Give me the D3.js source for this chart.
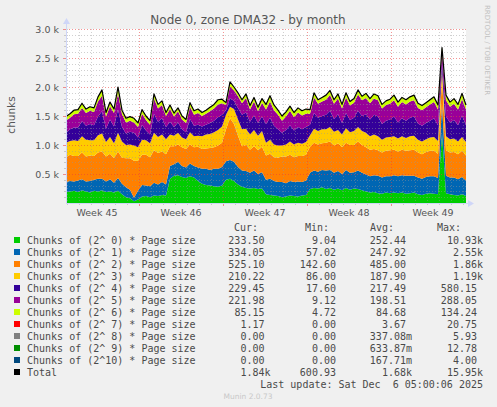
<!DOCTYPE html>
<html>
<head>
<meta charset="utf-8"/>
<title>Node 0, zone DMA32 - by month</title>
<script src="https://cdn.jsdelivr.net/npm/d3@7"></script>
<style>
  body { margin: 0; background: #f0f0f0; }
  svg { display: block; }
</style>
</head>
<body>
<div id="chart"></div>
<script>
// one sample every 8 hours, first one at Mon 3 Nov 2025 22:00 UTC
var sampleStart = Date.UTC(2025, 10, 3, 22);
var sampleHours = 8;

// chunks per order
var order0 = [190,200,210,190,220,200,180,210,200,220,190,200,180,210,150,100,80,30,60,110,
  120,100,130,120,140,130,420,470,480,450,430,460,440,380,330,310,300,290,280,300,
  400,420,380,320,280,260,250,260,240,250,150,140,130,120,100,110,130,120,110,130,
  140,240,260,250,270,240,260,230,250,220,260,230,250,240,220,200,180,190,170,160,
  180,170,180,170,180,160,170,180,150,140,160,170,160,150,1200,170,150,140,130,150,120];
var order1 = [170,180,160,200,190,170,200,190,220,200,180,210,170,220,180,170,150,60,150,200,
  180,190,220,200,220,190,220,200,230,190,180,220,200,230,260,280,270,300,310,320,
  320,320,330,300,280,290,270,300,260,280,250,280,250,240,260,230,250,240,260,230,
  250,280,300,290,300,320,310,290,300,280,310,290,280,320,300,290,280,290,300,280,
  280,290,300,290,300,310,300,290,290,280,290,290,300,280,500,300,290,300,280,300,270];
var order2 = [430,450,440,420,460,430,440,410,450,470,430,440,420,460,450,500,540,640,520,520,
  530,500,560,540,530,520,340,310,300,320,320,330,320,360,340,350,380,370,400,420,
  550,720,650,540,420,450,400,420,410,440,420,430,410,420,440,460,450,430,440,450,
  440,450,480,470,460,480,490,470,480,460,470,480,470,500,480,470,460,450,440,430,
  440,450,440,430,440,430,440,450,430,420,430,440,440,420,450,440,430,440,430,450,430];
var order3 = [250,240,270,260,280,290,260,270,300,310,250,290,260,320,280,230,240,260,230,260,
  250,240,300,280,290,260,200,180,200,170,170,210,190,190,220,240,240,260,270,280,
  250,200,260,280,290,280,260,280,250,270,220,240,220,210,190,210,230,220,230,210,
  220,200,240,230,240,230,250,240,230,220,250,220,240,250,240,250,230,250,240,220,
  230,230,230,220,230,220,240,240,220,220,220,230,240,220,150,240,230,230,220,240,230];
var order4 = [170,200,220,230,260,240,280,260,320,380,230,300,290,400,250,200,220,220,170,260,
  170,150,330,260,280,210,220,150,180,140,120,230,180,190,170,170,190,200,220,200,
  80,150,140,200,250,280,220,250,220,250,320,380,320,280,220,250,280,240,270,250,
  260,180,270,230,230,250,280,220,270,200,260,210,230,280,260,320,290,340,340,270,
  290,300,340,280,310,300,320,330,280,270,280,290,320,270,150,340,290,320,280,370,290];
var order5 = [210,200,230,240,230,220,230,230,260,270,210,230,230,280,220,190,190,180,180,190,
  180,170,260,230,230,190,220,180,190,170,160,210,190,200,180,190,200,210,220,200,
  90,200,180,200,200,250,210,240,200,240,250,280,270,250,210,230,250,230,250,240,
  230,190,270,240,250,260,270,260,270,250,270,250,260,280,270,280,280,280,280,270,
  270,270,280,270,280,280,280,280,270,270,270,280,280,270,170,280,270,280,270,280,270];
var order6 = [70,70,70,70,80,70,70,70,80,100,70,70,70,110,70,70,70,70,70,70,
  70,70,80,70,70,60,70,60,60,60,60,70,70,70,60,60,70,70,80,70,
  40,80,60,60,60,70,70,70,70,70,90,100,90,80,80,80,80,80,80,80,
  80,70,80,70,70,80,80,70,80,70,80,70,70,80,70,80,80,80,80,70,
  70,80,90,80,80,80,80,90,80,80,80,80,90,80,60,90,80,90,90,100,80];

var seriesKeys = ["o0", "o1", "o2", "o3", "o4", "o5", "o6"];
var seriesValues = [order0, order1, order2, order3, order4, order5, order6];

var legendNames = ["Chunks of (2^ 0) * Page size", "Chunks of (2^ 1) * Page size",
  "Chunks of (2^ 2) * Page size", "Chunks of (2^ 3) * Page size", "Chunks of (2^ 4) * Page size",
  "Chunks of (2^ 5) * Page size", "Chunks of (2^ 6) * Page size", "Chunks of (2^ 7) * Page size",
  "Chunks of (2^ 8) * Page size", "Chunks of (2^ 9) * Page size", "Chunks of (2^10) * Page size",
  "Total"];
var legendColors = ["#00cc00", "#0066b3", "#ff8000", "#ffcc00", "#330099", "#990099",
  "#ccff00", "#ff0000", "#808080", "#008f00", "#00487d", "#000000"];
var curVals = ["233.50","334.05","525.10","210.22","229.45","221.98","85.15","1.17","0.00","0.00","0.00","1.84k"];
var minVals = ["9.04","57.02","142.60","86.00","17.60","9.12","4.72","0.00","0.00","0.00","0.00","600.93"];
var avgVals = ["252.44","247.92","485.00","187.90","217.49","198.51","84.68","3.67","337.08m","633.87m","167.71m","1.68k"];
var maxVals = ["10.93k","2.55k","1.86k","1.19k","580.15","288.05","134.24","20.75","5.93","12.78","4.00","15.95k"];

var yTicks = [500, 1000, 1500, 2000, 2500, 3000];

var W = 497, H = 407;
var plotLeft = 66, plotRight = 466, plotTop = 29, plotBottom = 203;

var svg = d3.select("#chart").append("svg")
  .attr("width", W)
  .attr("height", H);

svg.append("rect").attr("width", W).attr("height", H).attr("fill", "#f0f0f0");

// table for the stack
var rows = order0.map(function(d, i) {
  var r = { t: new Date(sampleStart + i * sampleHours * 3600e3) };
  seriesKeys.forEach(function(k, j) { r[k] = seriesValues[j][i]; });
  return r;
});

var x = d3.scaleUtc()
  .domain([rows[0].t, rows[rows.length - 1].t])
  .range([plotLeft, plotRight]);
var y = d3.scaleLinear().domain([0, 3000]).range([plotBottom, plotTop]);

svg.append("rect")
  .attr("x", plotLeft).attr("y", plotTop)
  .attr("width", plotRight - plotLeft).attr("height", plotBottom - plotTop)
  .attr("fill", "#ffffff");

var stacked = d3.stack().keys(seriesKeys)(rows);

var area = d3.area()
  .x(function(d) { return x(d.data.t); })
  .y0(function(d) { return y(d[0]); })
  .y1(function(d) { return y(d[1]); });

svg.append("g").selectAll("path")
  .data(stacked)
  .enter().append("path")
  .attr("d", area)
  .attr("fill", function(d, i) { return legendColors[i]; });

// grid, drawn over the areas like rrdtool does
var grid = svg.append("g").attr("shape-rendering", "crispEdges");
var minorCol = "rgba(150,150,150,0.45)", majorCol = "rgba(235,60,60,0.55)";

d3.range(100, 3001, 100).forEach(function(v) {
  var major = v % 500 === 0;
  var yy = Math.round(y(v)) + 0.5;
  grid.append("line")
    .attr("x1", plotLeft).attr("x2", plotRight).attr("y1", yy).attr("y2", yy)
    .attr("stroke", major ? majorCol : minorCol)
    .attr("stroke-dasharray", "1,2");
  grid.append("line")
    .attr("x1", plotLeft - (major ? 3 : 2)).attr("x2", plotLeft).attr("y1", yy).attr("y2", yy)
    .attr("stroke", major ? majorCol : minorCol);
});

var t0 = x.domain()[0], t1 = x.domain()[1];
d3.utcDay.range(t0, t1).forEach(function(d) {
  var major = d.getUTCDay() === 1;
  var xx = Math.round(x(d)) + 0.5;
  grid.append("line")
    .attr("x1", xx).attr("x2", xx).attr("y1", plotTop).attr("y2", plotBottom)
    .attr("stroke", major ? majorCol : minorCol)
    .attr("stroke-dasharray", "1,2");
  grid.append("line")
    .attr("x1", xx).attr("x2", xx).attr("y1", plotBottom).attr("y2", plotBottom + (major ? 3 : 2))
    .attr("stroke", major ? majorCol : minorCol);
});

// total line
var totalLine = d3.line()
  .x(function(d) { return x(d.t); })
  .y(function(d) { return y(d3.sum(seriesKeys, function(k) { return d[k]; })); });

svg.append("path")
  .datum(rows)
  .attr("d", totalLine)
  .attr("fill", "none")
  .attr("stroke", "#000")
  .attr("stroke-width", 1.2)
  .attr("stroke-linejoin", "round");

// axes with arrows
var axisCol = "#cfd6f8";
svg.append("line").attr("x1", plotLeft + 0.5).attr("x2", plotLeft + 0.5)
  .attr("y1", plotBottom).attr("y2", plotTop - 6).attr("stroke", axisCol);
svg.append("line").attr("x1", plotLeft).attr("x2", plotRight + 4)
  .attr("y1", plotBottom + 0.5).attr("y2", plotBottom + 0.5).attr("stroke", axisCol);
svg.append("path").attr("d", "M" + (plotLeft - 3) + "," + (plotTop - 5) + "L" + (plotLeft + 0.5) + "," + (plotTop - 11) + "L" + (plotLeft + 4) + "," + (plotTop - 5) + "Z")
  .attr("fill", axisCol);
svg.append("path").attr("d", "M" + (plotRight + 2) + "," + (plotBottom - 3) + "L" + (plotRight + 8) + "," + (plotBottom + 0.5) + "L" + (plotRight + 2) + "," + (plotBottom + 4) + "Z")
  .attr("fill", axisCol);

var sans = "'DejaVu Sans', sans-serif", mono = "'DejaVu Sans Mono', monospace";
var textCol = "#555";

svg.append("g").selectAll("text")
  .data(yTicks)
  .enter().append("text")
  .attr("x", 59).attr("y", function(d) { return y(d) + 3.5; })
  .attr("text-anchor", "end")
  .attr("font-family", sans).attr("font-size", 9.5).attr("fill", textCol)
  .text(function(d) { return d3.format(".1f")(d / 1000) + " k"; });

var weekFmt = d3.utcFormat("%V");
svg.append("g").selectAll("text")
  .data(d3.utcMonday.range(d3.utcMonday.floor(t0), t1))
  .enter().append("text")
  .attr("x", function(d) { return x(d3.utcHour.offset(d, 84)); })
  .attr("y", 216)
  .attr("text-anchor", "middle")
  .attr("font-family", sans).attr("font-size", 9.5).attr("fill", textCol)
  .text(function(d) { return "Week " + (+weekFmt(d)); });

svg.append("text")
  .attr("x", 248).attr("y", 24)
  .attr("text-anchor", "middle")
  .attr("font-family", sans).attr("font-size", 12).attr("fill", textCol)
  .text("Node 0, zone DMA32 - by month");

svg.append("text")
  .attr("transform", "translate(15,115) rotate(-90)")
  .attr("text-anchor", "middle")
  .attr("font-family", sans).attr("font-size", 10.5).attr("fill", textCol)
  .text("chunks");

svg.append("text")
  .attr("transform", "translate(485,5) rotate(90)")
  .attr("font-family", sans).attr("font-size", 7).attr("fill", "#c0c0c0")
  .text("RRDTOOL / TOBI OETIKER");

// legend
var legend = svg.append("g").attr("font-family", mono).attr("font-size", 10).attr("fill", "#4a4a4a");
[["Cur:", 234], ["Min:", 305], ["Avg:", 370], ["Max:", 437]].forEach(function(h) {
  legend.append("text").attr("x", h[1]).attr("y", 230.5).text(h[0]);
});

function cell(v) { return /[0-9]$/.test(v) ? v + "\u00a0" : v; }
var cols = [[curVals, 270.5], [minVals, 342], [avgVals, 412], [maxVals, 483]];

legendNames.forEach(function(name, i) {
  var cy = 240 + i * 12;
  legend.append("rect")
    .attr("x", 14).attr("y", cy - 3).attr("width", 6).attr("height", 6)
    .attr("fill", legendColors[i]);
  legend.append("text").attr("x", 27).attr("y", cy + 3.5).text(name);
  cols.forEach(function(c) {
    legend.append("text")
      .attr("x", c[1]).attr("y", cy + 3.5)
      .attr("text-anchor", "end")
      .text(cell(c[0][i]));
  });
});

legend.append("text")
  .attr("x", 483).attr("y", 387.5)
  .attr("text-anchor", "end")
  .attr("xml:space", "preserve")
  .style("white-space", "pre")
  .text("Last update: Sat Dec  6 05:00:06 2025");

svg.append("text")
  .attr("x", 248).attr("y", 398.5)
  .attr("text-anchor", "middle")
  .attr("font-family", sans).attr("font-size", 7.5).attr("fill", "#c8c8c8")
  .text("Munin 2.0.73");
</script>
</body>
</html>
